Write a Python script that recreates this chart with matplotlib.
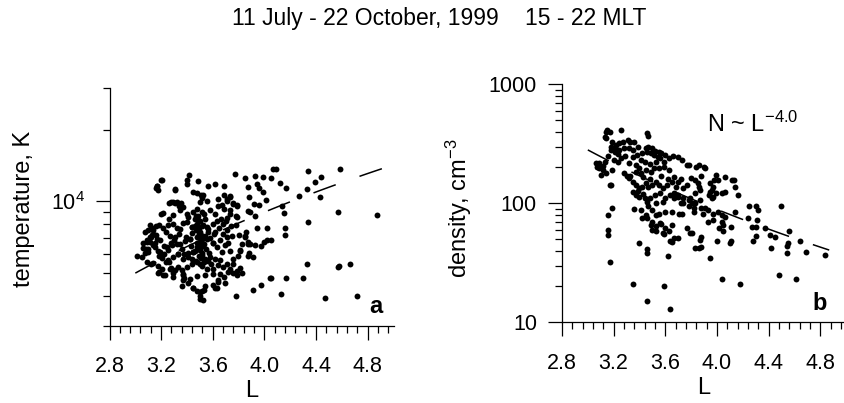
import numpy as np
import matplotlib
matplotlib.use("Agg")
import matplotlib.pyplot as plt
from matplotlib.ticker import FixedLocator, NullFormatter

plt.rcParams['font.family'] = ['Liberation Sans', 'DejaVu Sans']
plt.rcParams['mathtext.fontset'] = 'custom'
plt.rcParams['mathtext.rm'] = 'Liberation Sans'
plt.rcParams['mathtext.it'] = 'Liberation Sans:italic'
plt.rcParams['mathtext.bf'] = 'Liberation Sans:bold'

# ---------------- data: panel a (temperature) ----------------
L_a = [3.204, 3.165, 3.178, 3.418, 3.403, 3.398, 3.488, 3.307, 3.274, 3.289, 3.320, 3.341,
       3.475, 3.527, 3.514, 3.501, 3.552, 3.20, 3.26, 3.31, 3.35, 3.17, 3.16, 3.20, 3.31, 3.45, 3.51, 3.56,
       3.217, 3.263, 3.294, 3.346, 3.372, 3.398, 3.410, 3.449, 3.475, 3.488, 3.514, 3.540, 3.578, 3.617,
       3.643, 3.668, 3.707, 3.733, 3.759, 3.733, 3.785,
       3.114, 3.101, 3.075, 3.140, 3.127, 3.114, 3.165, 3.191, 3.152, 3.088, 3.217, 3.256, 3.294, 3.320,
       3.346, 3.372, 3.398, 3.436, 3.462, 3.488, 3.527, 3.552, 3.604, 3.630, 3.681, 3.707, 3.785,
       3.062, 3.075, 3.049, 3.011, 3.101, 3.178, 3.243, 3.281, 3.320, 3.346, 3.385, 3.423, 3.475, 3.501,
       3.527, 3.552, 3.604, 3.656, 3.707, 3.746, 3.694, 3.733,
       3.140, 3.178, 3.204, 3.256, 3.294, 3.333, 3.372, 3.410, 3.449, 3.488, 3.514, 3.540, 3.578, 3.617,
       3.656, 3.707, 3.759, 3.797, 3.810, 3.823,
       3.333, 3.359, 3.398, 3.436, 3.475, 3.514, 3.552, 3.604, 3.643, 3.681, 3.733, 3.785,
       3.178, 3.217, 3.269, 3.294, 3.372, 3.372, 3.423, 3.475, 3.540, 3.604, 3.656, 3.720, 3.785,
       3.359, 3.410, 3.449, 3.475, 3.514, 3.540, 3.604, 3.617, 3.643, 3.694, 3.501, 3.527,
       3.10, 3.08, 3.11, 3.14, 3.16, 3.14, 3.16, 3.18, 3.13, 3.09, 3.12, 3.22, 3.29, 3.31, 3.23, 3.18,
       3.28, 3.24, 3.38, 3.37,
       3.50, 3.50, 3.53, 3.45, 3.63, 3.64, 3.69, 3.76, 3.76, 3.83, 3.81, 3.78,
       3.91, 3.87, 3.88, 3.93, 3.87, 3.89, 3.81, 3.87, 3.80, 3.85, 3.78, 3.86, 3.85, 3.94, 4.02, 3.93,
       3.79, 3.76, 3.78, 3.73, 3.71, 3.69, 3.64, 3.69, 3.73, 3.69, 3.62, 3.77, 3.85, 3.87, 3.88, 3.92,
       3.96, 3.87, 3.89, 3.93, 3.99, 3.94, 3.96, 3.99, 4.01, 4.05,
       4.07, 4.09, 4.17, 4.12, 4.14, 4.15, 4.16, 4.16, 4.02, 4.05, 4.00, 3.97, 4.04, 4.05, 3.97, 3.91,
       4.13, 4.17,
       4.584, 4.34, 4.44, 4.39, 4.33, 4.43, 4.27, 4.57, 4.87, 4.34, 4.33, 4.30, 4.57, 4.58, 4.66, 4.47, 4.72,
       3.46, 3.48, 3.49, 3.50, 3.51, 3.52, 3.47, 3.49, 3.50, 3.51, 3.53, 3.48, 3.50, 3.52, 3.49, 3.51,
       3.47, 3.50, 3.53, 3.48, 3.50, 3.52, 3.46, 3.49, 3.51, 3.54, 3.44, 3.42, 3.56, 3.58, 3.43, 3.45,
       3.55, 3.57, 3.41, 3.44, 3.56, 3.59, 3.47, 3.53, 3.39, 3.61, 3.38, 3.60, 3.44, 3.56,
       3.06, 3.09, 3.12, 3.15, 3.19, 3.22, 3.25, 3.28, 3.31, 3.34, 3.24, 3.27, 3.30, 3.36, 3.33, 3.21,
       3.18, 3.26,
       3.62, 3.65, 3.68, 3.71, 3.66, 3.70, 3.74, 3.63, 3.67, 3.72]
T_a = [12250, 11640, 11120, 12830, 12330, 11870, 12140, 11200, 9930, 9970, 9970, 9530,
       10840, 10670, 10330, 9910, 10000, 8880, 9840, 9840, 9840, 11570, 11380, 12330, 11270, 10910, 10670, 11600,
       8930, 8420, 8790, 9150, 9460, 8820, 8600, 9050, 9320, 8710, 8980, 8460, 9200, 8870,
       9550, 9680, 10040, 10420, 9880, 9170, 9610,
       7980, 7560, 7420, 7310, 7190, 7050, 6960, 6880, 6650, 6760, 7690, 7930, 8050, 7720,
       7610, 8120, 8190, 7790, 7880, 8310, 7930, 7760, 8060, 8280, 8020, 8470, 8590,
       6350, 6080, 5830, 5900, 6280, 6190, 6400, 6520, 6610, 6590, 6830, 6940, 7060, 6720,
       6480, 6930, 6700, 6850, 7080, 7170, 6520, 6180,
       5480, 5360, 5180, 5640, 5810, 6010, 5740, 6090, 6120, 6310, 5920, 5720, 5830, 5720,
       5650, 5460, 5710, 5890, 6220, 6640,
       5290, 5120, 5270, 5440, 5530, 5350, 5180, 5200, 5380, 5270, 5210, 5110,
       5010, 4880, 5170, 4800, 4950, 4660, 4720, 4860, 4880, 4960, 4930, 5020, 4880,
       4390, 4530, 4320, 4180, 4180, 4390, 4460, 4320, 4680, 4530, 3980, 3850,
       6100, 6300, 6720, 6560, 7240, 7600, 7860, 7980, 7720, 5570, 5460, 6470, 4990, 5130, 4900, 5030,
       5240, 5530, 4750, 4900,
       3880, 4170, 4240, 4310, 4310, 4600, 4820, 4990, 5460, 4990, 5240, 3980,
       5820, 5900, 6050, 6520, 6620, 6620, 6160, 6720, 7200, 7100, 7950, 7400, 7120, 7720, 7720, 8700,
       9530, 9780, 8700, 10490, 10230, 10670, 10230, 9280, 8880, 11640, 11760, 13040, 12540, 11460, 10430, 9780,
       9680, 9080, 8980, 12740, 12660, 11760, 11380, 10900, 10160, 12540,
       13700, 13700, 11400, 11950, 9530, 8930, 7720, 7240, 6890, 6890, 6720, 6460, 4750, 4750, 4430, 4230,
       4080, 4750,
       13600, 13400, 12660, 12000, 11300, 10400, 10560, 9000, 8730, 8160, 5460, 4750, 5300, 5350, 5460, 3920, 4010,
       8400, 8050, 7700, 7450, 7200, 6950, 7600, 7300, 7050, 6800, 6600, 6450, 6250, 6050, 5900, 5750,
       5600, 5450, 5550, 6700, 8250, 7900, 6200, 6400, 6600, 7150, 7350, 6950, 7400, 7000, 6500, 6100,
       6300, 6050, 5850, 5700, 5600, 5450, 8700, 8800, 7100, 7300, 6000, 6700, 7800, 7650,
       6650, 6900, 7050, 6400, 6150, 6000, 6250, 6700, 7100, 7300, 7400, 7150, 6850, 6300, 6000, 5750,
       5900, 5550,
       7450, 7750, 7300, 7600, 8400, 8250, 7900, 6450, 6150, 6700]

# ---------------- data: panel b (density) ----------------
L_b = [3.15, 3.14, 3.13, 3.14, 3.17, 3.26, 3.46, 3.47,
       3.19, 3.18, 3.21, 3.22, 3.24, 3.27, 3.31, 3.33, 3.36, 3.18, 3.21, 3.24, 3.28, 3.32, 3.35, 3.39, 3.42,
       3.45, 3.47, 3.50, 3.46, 3.49, 3.51, 3.54, 3.56, 3.59, 3.63, 3.66, 3.70, 3.73, 3.77, 3.84, 3.57, 3.60, 3.52, 3.55,
       3.08, 3.09, 3.07, 3.12, 3.10, 3.14, 3.18, 3.13, 3.06, 3.09, 3.12, 3.19, 3.20, 3.16, 3.23,
       3.23, 3.26, 3.32, 3.37, 3.41, 3.44, 3.40, 3.37, 3.41, 3.45, 3.49, 3.51, 3.55, 3.59, 3.63, 3.48, 3.53,
       3.29, 3.35, 3.38,
       3.28, 3.30, 3.32, 3.35, 3.37, 3.40, 3.42, 3.45, 3.47, 3.50, 3.53, 3.55, 3.58, 3.61, 3.65, 3.68, 3.70,
       3.74, 3.77, 3.80, 3.33, 3.43, 3.48, 3.57, 3.62, 3.67, 3.72,
       3.35, 3.37, 3.40, 3.44, 3.46, 3.47, 3.50, 3.53, 3.55, 3.45, 3.42, 3.46, 3.50, 3.58, 3.60, 3.64, 3.67,
       3.70, 3.74, 3.78, 3.60, 3.65, 3.71, 3.39, 3.43, 3.52, 3.56, 3.48, 3.53,
       3.49, 3.53, 3.56, 3.60, 3.63, 3.65, 3.67, 3.64, 3.46, 3.40, 3.62,
       3.17, 3.16, 3.16, 3.16, 3.17, 3.19, 3.35, 3.46, 3.59, 3.64, 3.46, 3.65, 3.57, 3.58, 3.59, 3.50, 3.53,
       3.70, 3.36, 3.41,
       3.78, 3.86, 3.90, 3.91, 3.88, 3.83, 3.85, 3.86, 3.87, 3.83, 3.79, 3.95, 3.97, 3.96, 3.99, 3.94, 3.96,
       4.04, 4.06, 3.99, 4.01, 4.13, 4.14, 4.16,
       3.78, 3.82, 3.88, 3.89, 3.93, 3.97, 4.01, 4.04, 4.06, 4.14, 3.93, 3.97, 4.04, 4.05, 4.02, 4.05, 4.11,
       3.79, 3.88, 3.87, 3.83, 3.86, 3.88, 4.00, 4.11, 4.10, 3.95, 4.04, 4.18, 3.77, 3.81,
       4.25, 4.30, 4.32, 4.24, 4.31, 4.27, 4.30, 4.37, 4.30, 4.28, 4.41, 4.45, 4.42, 4.50, 4.56, 4.55, 4.54,
       4.54, 4.64, 4.69, 4.84, 4.48, 4.61,
       3.91, 3.87, 3.83, 3.81, 3.82, 3.74, 3.72, 3.70, 3.67, 3.73, 3.98, 4.06, 4.12, 3.95, 3.97]
N_b = [413, 395, 363, 351, 400, 413, 387, 370,
       330, 299, 299, 309, 319, 330, 340, 330, 330, 281, 272, 281, 290, 290, 281, 300, 265,
       290, 299, 290, 272, 263, 255, 247, 239, 224, 239, 250, 247, 232, 210, 203, 265, 255, 275, 270,
       210, 197, 203, 191, 173, 179, 143, 224, 220, 218, 205, 190, 230, 250, 260,
       224, 239, 217, 210, 230, 224, 197, 185, 179, 191, 185, 197, 197, 203, 191, 215, 222,
       250, 245, 255,
       179, 168, 162, 152, 143, 134, 138, 147, 138, 143, 152, 143, 134, 143, 152, 138, 152,
       134, 143, 162, 170, 165, 160, 168, 160, 165, 160,
       125, 117, 114, 110, 103, 94, 88, 80, 82, 80, 75, 75, 70, 103, 110, 117, 110,
       114, 100, 107, 85, 85, 82, 128, 120, 118, 122, 110, 100,
       66, 64, 68, 62, 58, 66, 51, 48, 41, 46, 36,
       32, 54, 60, 80, 142, 91, 21, 15, 20, 13, 38.5, 47.6, 67, 56, 55, 60, 58,
       51, 90, 88,
       210, 210, 203, 197, 168, 157, 147, 138, 129, 121, 110, 147, 138, 129, 121, 117, 110,
       121, 125, 173, 157, 157, 138, 117,
       94, 85, 91, 82, 88, 82, 85, 80, 77, 85, 70, 72, 70, 66, 62, 59, 63,
       56, 52.5, 49, 42, 42, 43, 48.5, 48.5, 46, 34.5, 23, 21, 62, 56,
       94, 95, 87, 75, 72, 63, 63, 62, 53, 48, 54, 52.5, 42, 94, 58, 46, 44,
       38, 48.5, 39.3, 37, 25, 23,
       91, 107, 100, 100, 91, 110, 100, 117, 121, 82, 157, 167, 157, 125, 114]

# fitted trend lines
fit_a_range = [3.0, 4.91]
fit_a_T0 = 4990.0      # temperature at L = 3
fit_a_exp = 2.05
fit_b_range = [3.0, 4.87]
fit_b_coef = 22760.0   # N = coef * L^-4
fit_b_exp = -4.0

x_major = [2.8, 3.2, 3.6, 4.0, 4.4, 4.8]
x_labels = ['2.8', '3.2', '3.6', '4.0', '4.4', '4.8']

# ---------------- figure ----------------
W, H = 844, 403
fig = plt.figure(figsize=(W / 100, H / 100), dpi=100)


def px_axes(x0, y0, x1, y1):
    return fig.add_axes([x0 / W, 1 - y1 / H, (x1 - x0) / W, (y1 - y0) / H])


ax_a = px_axes(109.5, 87.7, 393.5, 325.7)
ax_b = px_axes(562, 84.3, 846, 322.3)

TICK_FS = 15.5
LABEL_FS = 17
DOT = 18

for ax in (ax_a, ax_b):
    for s in ('top', 'right'):
        ax.spines[s].set_visible(False)
    for s in ('left', 'bottom'):
        ax.spines[s].set_linewidth(0.9)
    ax.set_xlim(2.8, 5.0)
    ax.set_xticks(x_major)
    ax.set_xticklabels(x_labels)
    ax.xaxis.set_minor_locator(FixedLocator([2.8 + 0.08 * i for i in range(28) if i % 5]))
    ax.tick_params(axis='both', which='major', direction='out', length=10, width=0.9,
                   labelsize=TICK_FS, pad=8)
    ax.tick_params(axis='both', which='minor', direction='out', length=5, width=0.9)
    ax.tick_params(axis='x', which='major', pad=12)
    ax.set_yscale('log')
    ax.set_xlabel('L', fontsize=LABEL_FS, labelpad=2)

# panel a
ax_a.scatter(L_a, T_a, s=DOT, color='black', linewidths=0, zorder=3)
La_fit = np.linspace(fit_a_range[0], fit_a_range[1], 100)
ax_a.plot(La_fit, fit_a_T0 * (La_fit / 3.0) ** fit_a_exp, color='black', lw=1.1,
          dashes=(15.5, 16.5), zorder=4)
ax_a.set_ylim(3000, 30000)
ax_a.yaxis.set_major_locator(FixedLocator([1e4]))
ax_a.set_yticklabels(['$10^4$'])
ax_a.yaxis.set_minor_locator(FixedLocator([3000, 4000, 5000, 6000, 7000, 8000, 9000, 20000, 30000]))
ax_a.yaxis.set_minor_formatter(NullFormatter())
ax_a.set_ylabel('temperature, K', fontsize=LABEL_FS)
ax_a.yaxis.set_label_coords(-0.263, 0.49)

# panel b
ax_b.scatter(L_b, N_b, s=DOT, color='black', linewidths=0, zorder=3)
Lb_fit = np.linspace(fit_b_range[0], fit_b_range[1], 100)
ax_b.plot(Lb_fit, fit_b_coef * Lb_fit ** fit_b_exp, color='black', lw=1.1,
          dashes=(15.5, 16.5), zorder=4)
ax_b.set_ylim(10, 1000)
ax_b.yaxis.set_major_locator(FixedLocator([10, 100, 1000]))
ax_b.set_yticklabels(['10', '100', '1000'])
ax_b.yaxis.set_minor_locator(FixedLocator([20, 30, 40, 50, 60, 70, 80, 90,
                                           200, 300, 400, 500, 600, 700, 800, 900]))
ax_b.yaxis.set_minor_formatter(NullFormatter())
ax_b.set_ylabel('density, cm$^{-3}$', fontsize=LABEL_FS)
ax_b.yaxis.set_label_coords(-0.31, 0.48)

# texts
fig.text(231.7 / W, 1 - 25 / H, '11 July - 22 October, 1999', fontsize=16.5,
         ha='left', va='baseline')
fig.text(525 / W, 1 - 25 / H, '15 - 22 MLT', fontsize=16.5, ha='left', va='baseline')
fig.text(383 / W, 1 - 313 / H, 'a', fontsize=17, fontweight='bold', ha='right', va='baseline')
fig.text(827 / W, 1 - 310 / H, 'b', fontsize=17, fontweight='bold', ha='right', va='baseline')
fig.text(706.7 / W, 1 - 131.7 / H, 'N ~ L$^{-4.0}$', fontsize=17, ha='left', va='baseline')

fig.savefig('out.png', dpi=100)
